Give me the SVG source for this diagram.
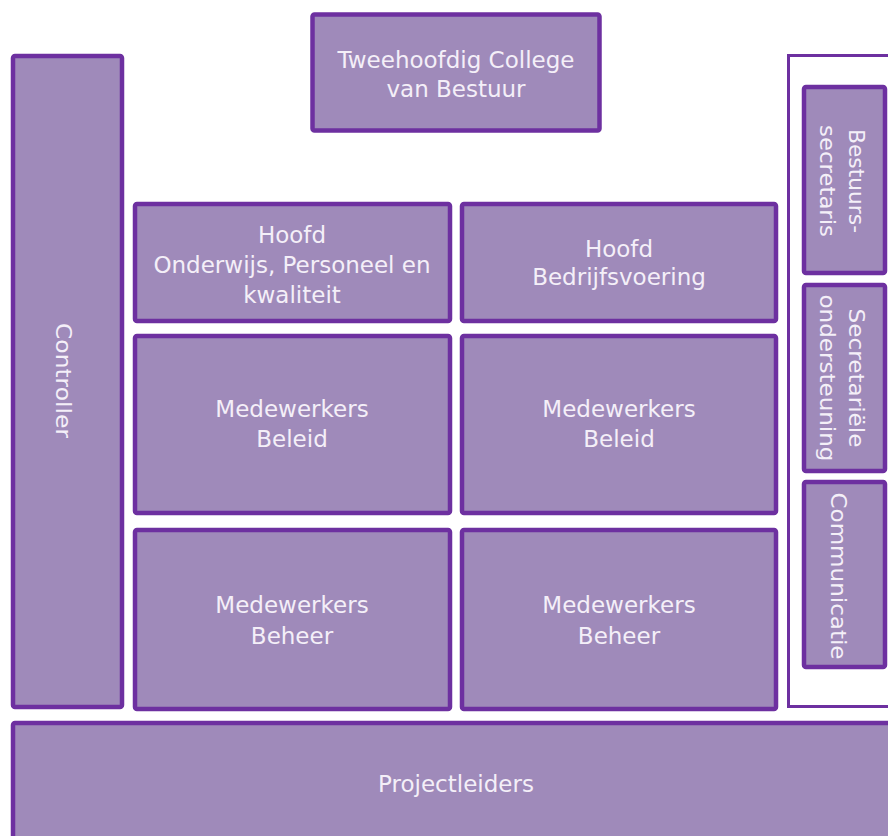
<svg xmlns="http://www.w3.org/2000/svg" width="888" height="836" viewBox="0 0 888 836">
  <style>
    .box { fill: #9f8aba; stroke: #6d30a0; stroke-width: 4.5; }
    .panel { fill: #ffffff; stroke: #6d30a0; stroke-width: 3; }
    .lbl { font-family: "DejaVu Sans", "Liberation Sans", sans-serif; font-size: 23px; fill: #f4eff8; text-anchor: middle; }
    .vlbl { font-family: "DejaVu Sans", "Liberation Sans", sans-serif; font-size: 21px; fill: #f4eff8; text-anchor: middle; }
  </style>
  <rect width="888" height="836" fill="#ffffff"/>

  <g id="college">
    <rect class="box" x="312.5" y="14.5" width="287" height="116" rx="2"/>
    <text class="lbl" x="456" y="68">Tweehoofdig College</text>
    <text class="lbl" x="456" y="97">van Bestuur</text>
  </g>

  <g id="controller">
    <rect class="box" x="13" y="56" width="109" height="651" rx="2"/>
    <g transform="translate(63,380.5) rotate(90)">
      <text class="vlbl" x="0" y="7.5" textLength="115" lengthAdjust="spacingAndGlyphs">Controller</text>
    </g>
  </g>

  <g id="hoofd-opk">
    <rect class="box" x="135" y="204" width="315" height="117" rx="2"/>
    <text class="lbl" x="292" y="243">Hoofd</text>
    <text class="lbl" x="292" y="273">Onderwijs, Personeel en</text>
    <text class="lbl" x="292" y="303">kwaliteit</text>
  </g>

  <g id="hoofd-bv">
    <rect class="box" x="462" y="204" width="314" height="117" rx="2"/>
    <text class="lbl" x="619" y="257">Hoofd</text>
    <text class="lbl" x="619" y="285">Bedrijfsvoering</text>
  </g>

  <g id="beleid-opk">
    <rect class="box" x="135" y="336" width="315" height="177" rx="2"/>
    <text class="lbl" x="292" y="417">Medewerkers</text>
    <text class="lbl" x="292" y="447">Beleid</text>
  </g>

  <g id="beleid-bv">
    <rect class="box" x="462" y="336" width="314" height="177" rx="2"/>
    <text class="lbl" x="619" y="417">Medewerkers</text>
    <text class="lbl" x="619" y="447">Beleid</text>
  </g>

  <g id="beheer-opk">
    <rect class="box" x="135" y="530" width="315" height="179" rx="2"/>
    <text class="lbl" x="292" y="613">Medewerkers</text>
    <text class="lbl" x="292" y="644">Beheer</text>
  </g>

  <g id="beheer-bv">
    <rect class="box" x="462" y="530" width="314" height="179" rx="2"/>
    <text class="lbl" x="619" y="613">Medewerkers</text>
    <text class="lbl" x="619" y="644">Beheer</text>
  </g>

  <g id="staf">
    <rect class="panel" x="788.5" y="55.5" width="120" height="651"/>

    <g id="bestuurssecretaris">
      <rect class="box" x="804" y="87" width="81" height="186" rx="2"/>
      <g transform="translate(841,181) rotate(90)">
        <text class="vlbl" x="0" y="-8" textLength="104" lengthAdjust="spacingAndGlyphs">Bestuurs-</text>
        <text class="vlbl" x="0" y="21" textLength="112" lengthAdjust="spacingAndGlyphs">secretaris</text>
      </g>
    </g>

    <g id="secretariele-ondersteuning">
      <rect class="box" x="804" y="285" width="81" height="186" rx="2"/>
      <g transform="translate(841,378) rotate(90)">
        <text class="vlbl" x="0" y="-8" textLength="139" lengthAdjust="spacingAndGlyphs">Secretariële</text>
        <text class="vlbl" x="0" y="21" textLength="167" lengthAdjust="spacingAndGlyphs">ondersteuning</text>
      </g>
    </g>

    <g id="communicatie">
      <rect class="box" x="804" y="482" width="81" height="185" rx="2"/>
      <g transform="translate(838,576) rotate(90)">
        <text class="vlbl" x="0" y="7.5" textLength="167" lengthAdjust="spacingAndGlyphs">Communicatie</text>
      </g>
    </g>
  </g>

  <g id="projectleiders">
    <rect class="box" x="13" y="723" width="900" height="150" rx="2"/>
    <text class="lbl" x="456" y="792">Projectleiders</text>
  </g>

  <g id="connectors"/>
</svg>
